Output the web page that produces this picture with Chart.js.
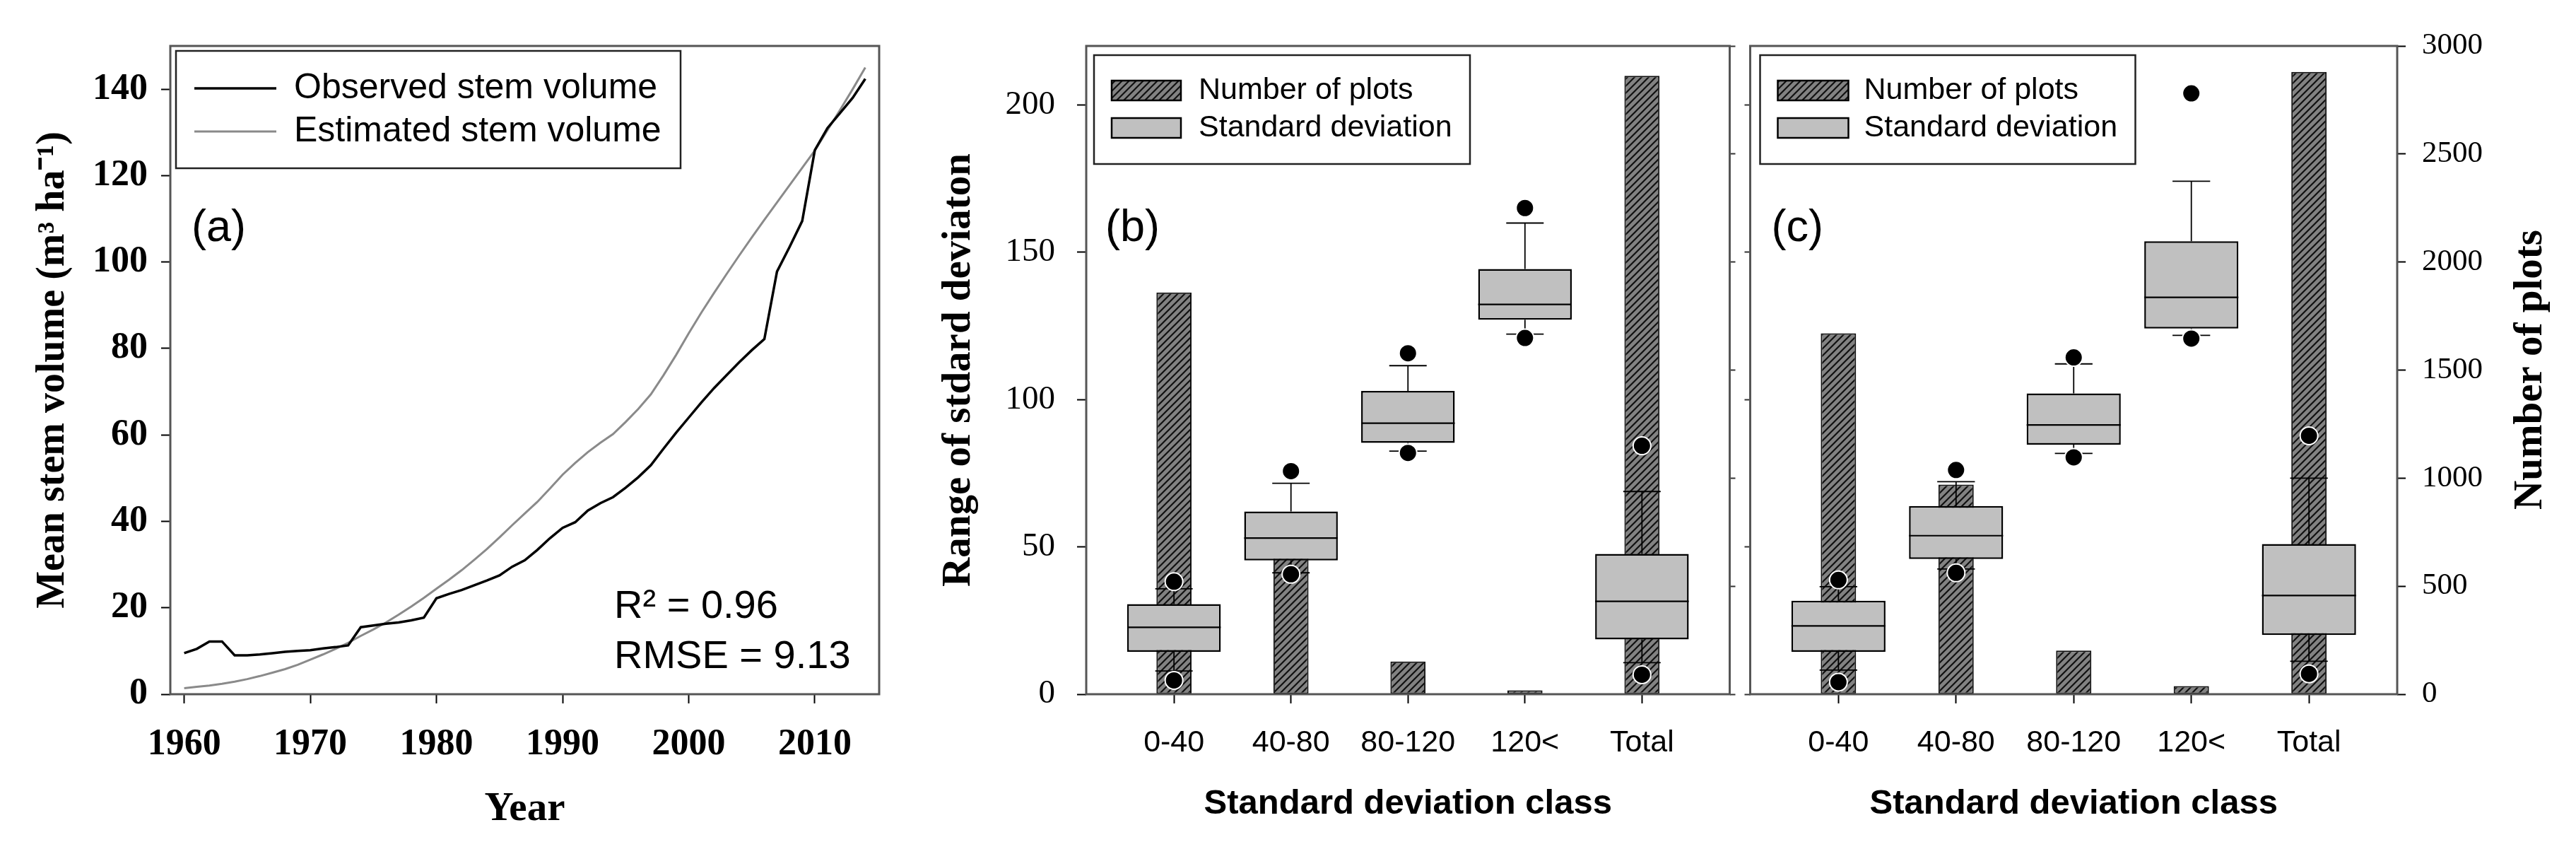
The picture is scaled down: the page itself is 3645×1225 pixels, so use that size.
<!DOCTYPE html>
<html>
<head>
<meta charset="utf-8">
<script src="https://cdn.jsdelivr.net/npm/chart.js@4.4.1/dist/chart.umd.min.js"></script>
<style>
  html, body { margin: 0; padding: 0; background: #fff; }
  #wrap { position: relative; width: 3645px; height: 1225px; overflow: hidden; background: #fff; }
  canvas { position: absolute; top: 0; }
</style>
</head>
<body>
<div id="wrap">
  <canvas id="chartA" width="1262" height="1225" style="left:0px;width:1262px;height:1225px"></canvas>
  <canvas id="chartB" width="1200" height="1225" style="left:1262px;width:1200px;height:1225px"></canvas>
  <canvas id="chartC" width="1183" height="1225" style="left:2462px;width:1183px;height:1225px"></canvas>
</div>
<script>
// (a) mean stem volume per year
const years = [1960, 1961, 1962, 1963, 1964, 1965, 1966, 1967, 1968, 1969,
  1970, 1971, 1972, 1973, 1974, 1975, 1976, 1977, 1978, 1979,
  1980, 1981, 1982, 1983, 1984, 1985, 1986, 1987, 1988, 1989,
  1990, 1991, 1992, 1993, 1994, 1995, 1996, 1997, 1998, 1999,
  2000, 2001, 2002, 2003, 2004, 2005, 2006, 2007, 2008, 2009,
  2010, 2011, 2012, 2013, 2014];
const observedVolume = [9.5, 10.5, 12.2, 12.2, 9.0, 9.0, 9.2, 9.5, 9.8, 10.0,
  10.2, 10.6, 10.9, 11.3, 15.5, 15.9, 16.3, 16.6, 17.1, 17.7,
  22.2, 23.2, 24.1, 25.2, 26.3, 27.5, 29.5, 31.0, 33.4, 36.1,
  38.5, 39.8, 42.5, 44.2, 45.6, 47.8, 50.2, 53.0, 56.8, 60.5,
  64.0, 67.5, 70.8, 73.8, 76.8, 79.6, 82.2, 97.8, 103.5, 109.5,
  125.9, 131.0, 134.5, 138.0, 142.4];
const estimatedVolume = [1.4, 1.7, 2.0, 2.4, 2.9, 3.5, 4.2, 5.0, 5.8, 6.8,
  8.0, 9.2, 10.5, 11.9, 13.5, 15.0, 16.6, 18.4, 20.3, 22.3,
  24.4, 26.5, 28.7, 31.1, 33.6, 36.3, 39.1, 41.8, 44.5, 47.6,
  50.8, 53.5, 56.0, 58.2, 60.2, 63.0, 66.0, 69.4, 73.8, 78.5,
  83.5, 88.3, 92.8, 97.2, 101.5, 105.7, 109.8, 113.8, 117.8, 121.8,
  125.8, 130.5, 135.2, 140.0, 145.0];
const yearTicks = [1960, 1970, 1980, 1990, 2000, 2010];
const volumeTicks = [0, 20, 40, 60, 80, 100, 120, 140];

// (b) and (c) standard deviation classes
const sdClasses = ['0-40', '40-80', '80-120', '120<', 'Total'];
const sdTicks = [0, 50, 100, 150, 200];
const plotTicks = [0, 500, 1000, 1500, 2000, 2500, 3000];

const plotsB = [1859, 834, 151, 18, 2862];
const lowB = [7.9, 41.2, 82.5, 122.2, 10.7];
const q1B = [14.4, 45.4, 85.3, 127.1, 18.6];
const medB = [22.7, 53.0, 92.0, 132.3, 31.5];
const q3B = [30.6, 62.0, 102.9, 144.3, 47.6];
const highB = [35.8, 71.6, 111.5, 159.9, 68.8];
const dotLowB = [4.7, 40.7, 81.9, 120.9, 6.6];
const dotHighB = [38.2, 75.7, 115.7, 165.0, 84.3];

const plotsC = [1670, 970, 202, 38, 2880];
const lowC = [8.2, 42.5, 81.7, 121.8, 11.2];
const q1C = [14.4, 45.9, 84.7, 124.1, 20.1];
const medC = [23.2, 53.8, 91.4, 134.7, 33.5];
const q3C = [31.7, 63.9, 102.1, 153.7, 51.0];
const highC = [36.5, 72.1, 112.1, 174.1, 73.3];
const dotLowC = [4.1, 41.2, 80.4, 120.7, 6.9];
const dotHighC = [38.8, 76.1, 114.3, 203.9, 87.7];

const SERIF = "'Liberation Serif', 'Times New Roman', serif";
const SANS = "'Liberation Sans', Arial, sans-serif";
const FRAME = '#555';
const CAP = 0.16;      // half width of whisker caps (x units)
const BOX_HALF = 0.4;  // half width of boxes (x units)

Chart.defaults.color = '#000';
Chart.defaults.font.family = SANS;
Chart.defaults.animation = false;

function fixWidth(w) { return s => { s.width = w; }; }
function fixHeight(h) { return s => { s.height = h; }; }
function setTicks(list) { return s => { s.ticks = list.map(v => ({value: v})); }; }

// frame around the plot area
const frame = {
  id: 'frame',
  afterDraw(chart) {
    const {ctx, chartArea: a} = chart;
    ctx.save();
    ctx.strokeStyle = FRAME;
    ctx.lineWidth = 3;
    ctx.strokeRect(a.left, a.top, a.right - a.left, a.bottom - a.top);
    ctx.restore();
  }
};

// free text (panel letters, stats, right title)
function notes(items) {
  return {
    id: 'notes',
    afterDraw(chart) {
      const {ctx, chartArea: a} = chart;
      items.forEach(t => {
        ctx.save();
        ctx.font = t.font;
        ctx.fillStyle = '#000';
        ctx.textAlign = t.align || 'left';
        ctx.textBaseline = 'middle';
        ctx.translate(a.left + t.x, a.top + t.y);
        if (t.rotate) ctx.rotate(t.rotate);
        ctx.fillText(t.text, 0, 0);
        ctx.restore();
      });
    }
  };
}

// boxed legend inside the plot area
function boxLegend(cfg) {
  return {
    id: 'boxLegend',
    afterDraw(chart) {
      const {ctx, chartArea: a} = chart;
      const left = a.left + cfg.x, top = a.top + cfg.y;
      ctx.save();
      ctx.fillStyle = '#fff';
      ctx.fillRect(left, top, cfg.w, cfg.h);
      ctx.lineWidth = 2.5;
      ctx.strokeStyle = '#222';
      ctx.strokeRect(left, top, cfg.w, cfg.h);
      ctx.font = cfg.font;
      ctx.textBaseline = 'middle';
      ctx.textAlign = 'left';
      cfg.rows.forEach((r, i) => {
        const ds = chart.data.datasets[r.dataset];
        const cy = top + cfg.rowY[i];
        const x0 = left + cfg.swatch[0], x1 = left + cfg.swatch[1];
        if (r.kind === 'line') {
          ctx.strokeStyle = ds.borderColor;
          ctx.lineWidth = ds.borderWidth;
          ctx.beginPath();
          ctx.moveTo(x0, cy);
          ctx.lineTo(x1, cy);
          ctx.stroke();
        } else {
          ctx.fillStyle = ds.backgroundColor;
          ctx.fillRect(x0, cy - cfg.swatchH / 2, x1 - x0, cfg.swatchH);
          ctx.strokeStyle = '#000';
          ctx.lineWidth = 2.5;
          ctx.strokeRect(x0, cy - cfg.swatchH / 2, x1 - x0, cfg.swatchH);
        }
        ctx.fillStyle = '#000';
        ctx.fillText(ds.label, left + cfg.textX, cy);
      });
      ctx.restore();
    }
  };
}

function hatchPattern() {
  const tile = document.createElement('canvas');
  tile.width = 10; tile.height = 10;
  const g = tile.getContext('2d');
  g.fillStyle = '#828282';
  g.fillRect(0, 0, 10, 10);
  g.strokeStyle = '#111';
  g.lineWidth = 2.2;
  g.beginPath();
  g.moveTo(-5, 5); g.lineTo(5, -5);
  g.moveTo(0, 10); g.lineTo(10, 0);
  g.moveTo(5, 15); g.lineTo(15, 5);
  g.stroke();
  return document.createElement('canvas').getContext('2d').createPattern(tile, 'repeat');
}

// ---------- (a) ----------
new Chart(document.getElementById('chartA'), {
  type: 'line',
  data: {
    datasets: [
      {
        label: 'Observed stem volume',
        data: years.map((y, i) => ({x: y, y: observedVolume[i]})),
        borderColor: '#000', borderWidth: 3.5, pointRadius: 0, tension: 0
      },
      {
        label: 'Estimated stem volume',
        data: years.map((y, i) => ({x: y, y: estimatedVolume[i]})),
        borderColor: '#8a8a8a', borderWidth: 3, pointRadius: 0, tension: 0
      }
    ]
  },
  options: {
    responsive: false,
    devicePixelRatio: 1,
    events: [],
    layout: { padding: { top: 65, right: 18, left: 0, bottom: 0 } },
    plugins: { legend: { display: false }, tooltip: { enabled: false } },
    scales: {
      x: {
        type: 'linear', min: 1958.9, max: 2015.1,
        afterBuildTicks: setTicks(yearTicks),
        afterFit: fixHeight(243),
        border: { display: false },
        grid: { drawOnChartArea: false, tickLength: 13, tickColor: '#000', tickWidth: 2 },
        ticks: { callback: v => String(v), padding: 27, maxRotation: 0, autoSkip: false,
                 font: { family: SERIF, size: 52, weight: 'bold' } },
        title: { display: true, text: 'Year', padding: { top: 0, bottom: 46 },
                 font: { family: SERIF, size: 57, weight: 'bold' } }
      },
      y: {
        type: 'linear', min: 0, max: 150,
        afterBuildTicks: setTicks(volumeTicks),
        afterFit: fixWidth(241),
        border: { display: false },
        grid: { drawOnChartArea: false, tickLength: 13, tickColor: '#000', tickWidth: 2 },
        ticks: { padding: 19, font: { family: SERIF, size: 52, weight: 'bold' } },
        title: { display: true, text: 'Mean stem volume (m³ ha⁻¹)', padding: { top: 42, bottom: 0 },
                 font: { family: SERIF, size: 56, weight: 'bold' } }
      }
    }
  },
  plugins: [
    frame,
    boxLegend({ x: 8, y: 7, w: 714, h: 166, rowY: [53, 114], swatch: [26, 142], textX: 167,
                font: '50px ' + SANS,
                rows: [{dataset: 0, kind: 'line'}, {dataset: 1, kind: 'line'}] }),
    notes([
      { text: '(a)', x: 30, y: 259, font: '63px ' + SANS },
      { text: 'R² = 0.96', x: 628, y: 794, font: '56px ' + SANS },
      { text: 'RMSE = 9.13', x: 628, y: 865, font: '56px ' + SANS }
    ])
  ]
});

// ---------- (b) and (c) ----------
function whiskerData(low, q1, q3, high) {
  const pts = [];
  sdClasses.forEach((_, i) => {
    const x = i + 1;
    pts.push({x: x, y: q3[i]}, {x: x, y: high[i]}, {x: x, y: null});
    pts.push({x: x - CAP, y: high[i]}, {x: x + CAP, y: high[i]}, {x: x, y: null});
    pts.push({x: x, y: q1[i]}, {x: x, y: low[i]}, {x: x, y: null});
    pts.push({x: x - CAP, y: low[i]}, {x: x + CAP, y: low[i]}, {x: x, y: null});
  });
  return pts;
}

function medianData(med) {
  const pts = [];
  sdClasses.forEach((_, i) => {
    const x = i + 1;
    pts.push({x: x - BOX_HALF, y: med[i]}, {x: x + BOX_HALF, y: med[i]}, {x: x, y: null});
  });
  return pts;
}

function dotData(lo, hi) {
  const pts = [];
  sdClasses.forEach((_, i) => {
    pts.push({x: i + 1, y: lo[i]}, {x: i + 1, y: hi[i]});
  });
  return pts;
}

function boxDatasets(plots, low, q1, med, q3, high, dLow, dHigh) {
  return [
    {
      type: 'bar', label: 'Number of plots', yAxisID: 'yN',
      data: plots.map((v, i) => ({x: i + 1, y: v})),
      backgroundColor: hatchPattern(), borderColor: '#111', borderWidth: 2,
      borderSkipped: false, grouped: false, barPercentage: 0.3, categoryPercentage: 1, order: 4
    },
    {
      type: 'bar', label: 'Standard deviation', yAxisID: 'y',
      data: q1.map((v, i) => ({x: i + 1, y: [v, q3[i]]})),
      backgroundColor: '#c0c0c0', borderColor: '#000', borderWidth: 2.5,
      borderSkipped: false, grouped: false, barPercentage: 0.8, categoryPercentage: 1, order: 3
    },
    {
      type: 'line', label: 'whiskers', yAxisID: 'y', data: whiskerData(low, q1, q3, high),
      borderColor: '#000', borderWidth: 1.8, pointRadius: 0, spanGaps: false, order: 2
    },
    {
      type: 'line', label: 'median', yAxisID: 'y', data: medianData(med),
      borderColor: '#000', borderWidth: 2.2, pointRadius: 0, spanGaps: false, order: 1
    },
    {
      type: 'line', label: 'outliers', yAxisID: 'y', data: dotData(dLow, dHigh),
      showLine: false, pointRadius: 12.5, pointBackgroundColor: '#000',
      pointBorderColor: '#fff', pointBorderWidth: 2, order: 0
    }
  ];
}

function xScale() {
  return {
    type: 'linear', min: 0.25, max: 5.75, offset: false,
    afterBuildTicks: setTicks(sdClasses.map((_, i) => i + 1)),
    afterFit: fixHeight(243),
    border: { display: false },
    grid: { offset: false, drawOnChartArea: false, tickLength: 13, tickColor: '#000', tickWidth: 2 },
    ticks: { callback: v => sdClasses[v - 1], padding: 30, maxRotation: 0, autoSkip: false,
             font: { family: SANS, size: 43 } },
    title: { display: true, text: 'Standard deviation class', padding: { top: 0, bottom: 58 },
             font: { family: SANS, size: 49, weight: 'bold' } }
  };
}

const legendRows = [{dataset: 0, kind: 'box'}, {dataset: 1, kind: 'box'}];

new Chart(document.getElementById('chartB'), {
  type: 'bar',
  data: { datasets: boxDatasets(plotsB, lowB, q1B, medB, q3B, highB, dotLowB, dotHighB) },
  options: {
    responsive: false,
    devicePixelRatio: 1,
    events: [],
    layout: { padding: { top: 65, right: 0, left: 0, bottom: 0 } },
    plugins: { legend: { display: false }, tooltip: { enabled: false } },
    scales: {
      x: xScale(),
      y: {
        type: 'linear', position: 'left', min: 0, max: 220,
        afterBuildTicks: setTicks(sdTicks),
        afterFit: fixWidth(275),
        border: { display: false },
        grid: { drawOnChartArea: false, tickLength: 13, tickColor: '#000', tickWidth: 2 },
        ticks: { padding: 31, font: { family: SERIF, size: 47 } },
        title: { display: true, text: 'Range of stdard deviaton', padding: { top: 61, bottom: 0 },
                 font: { family: SERIF, size: 57, weight: 'bold' } }
      },
      yN: {
        type: 'linear', position: 'right', min: 0, max: 3000,
        afterBuildTicks: setTicks(plotTicks),
        afterFit: fixWidth(10),
        border: { display: false },
        grid: { drawOnChartArea: false, tickLength: 8, tickColor: '#333', tickWidth: 2 },
        ticks: { display: false }
      }
    }
  },
  plugins: [
    frame,
    boxLegend({ x: 11, y: 13, w: 532, h: 154, rowY: [50, 103], swatch: [25, 123], swatchH: 28,
                textX: 148, font: '43px ' + SANS, rows: legendRows }),
    notes([{ text: '(b)', x: 27, y: 259, font: '63px ' + SANS }])
  ]
});

new Chart(document.getElementById('chartC'), {
  type: 'bar',
  data: { datasets: boxDatasets(plotsC, lowC, q1C, medC, q3C, highC, dotLowC, dotHighC) },
  options: {
    responsive: false,
    devicePixelRatio: 1,
    events: [],
    layout: { padding: { top: 65, right: 0, left: 0, bottom: 0 } },
    plugins: { legend: { display: false }, tooltip: { enabled: false } },
    scales: {
      x: xScale(),
      y: {
        type: 'linear', position: 'left', min: 0, max: 220,
        afterBuildTicks: setTicks(sdTicks),
        afterFit: fixWidth(11),
        border: { display: false },
        grid: { drawOnChartArea: false, tickLength: 8, tickColor: '#333', tickWidth: 2 },
        ticks: { display: false }
      },
      yN: {
        type: 'linear', position: 'right', min: 0, max: 3000,
        afterBuildTicks: setTicks(plotTicks),
        afterFit: fixWidth(253),
        border: { display: false },
        grid: { drawOnChartArea: false, tickLength: 12, tickColor: '#000', tickWidth: 2 },
        ticks: { callback: v => String(v), padding: 23, font: { family: SERIF, size: 43 } }
      }
    }
  },
  plugins: [
    frame,
    boxLegend({ x: 14, y: 13, w: 531, h: 154, rowY: [50, 103], swatch: [25, 125], swatchH: 28,
                textX: 147, font: '43px ' + SANS, rows: legendRows }),
    notes([
      { text: '(c)', x: 30, y: 259, font: '63px ' + SANS },
      { text: 'Number of plots', x: 1105, y: 458, rotate: -Math.PI / 2, align: 'center',
        font: 'bold 57px ' + SERIF }
    ])
  ]
});
</script>
</body>
</html>
